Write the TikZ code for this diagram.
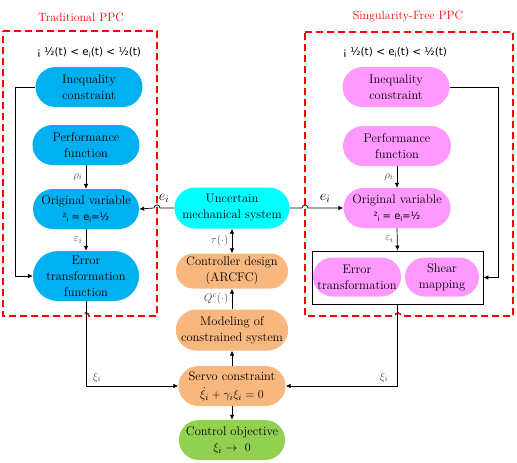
\documentclass[tikz,border=0pt]{standalone}
\usepackage{amsmath}
\usepackage{fontspec}
\newfontfamily\dejavu{DejaVu Sans}
\usetikzlibrary{shapes.misc,arrows.meta}
\definecolor{pblue}{HTML}{00B0F0}
\definecolor{pcyan}{HTML}{00FFFF}
\definecolor{porange}{HTML}{F7B77F}
\definecolor{pgreen}{HTML}{92D050}
\definecolor{ppink}{HTML}{FF99FF}
\newcommand{\nf}{\fontsize{12.5}{16}\selectfont}
\newcommand{\gsub}[1]{\raisebox{-0.35ex}{\fontsize{7}{7}\selectfont #1}}
\tikzset{
  pill/.style={rounded rectangle, draw=none, align=center, font=\nf, inner sep=0pt},
  arr/.style={-{Latex[length=5pt,width=4.5pt]}, line width=0.7pt},
  arrb/.style={{Latex[length=5pt,width=4.5pt]}-{Latex[length=5pt,width=4.5pt]}, line width=0.7pt},
  redbox/.style={draw=red, line width=1.6pt, dash pattern=on 7pt off 4pt},
  lab/.style={font=\fontsize{11}{12}\selectfont, text=black!70},
  ineq/.style={font=\dejavu\fontsize{10.5}{12}\selectfont},
  ttl/.style={font=\fontsize{12}{14}\selectfont, text=red}
}
\begin{document}
\begin{tikzpicture}[x=1pt,y=-1pt]
\useasboundingbox (0,0) rectangle (517,463);

% titles
\node[ttl] (t1) at (81,17) {Traditional PPC};
\node[ttl] (t2) at (408,17) {Singularity-Free PPC};

% dashed boxes
\draw[redbox] (3,31) -- (157,31) -- (157,316) -- (89,316)
  arc[start angle=0,end angle=180,radius=3pt] -- (3,316) -- cycle;
\draw[redbox] (305,32) -- (513,32) -- (513,316) -- (401,316)
  arc[start angle=0,end angle=180,radius=3pt] -- (305,316) -- cycle;

\node[ineq] (q1) at (89,53) {¡ ½(t) < e\gsub{i}(t) < ½(t)};
\node[ineq] (q2) at (395,53) {¡ ½(t) < e\gsub{i}(t) < ½(t)};

% left column
\node[pill, fill=pblue, minimum width=107, minimum height=40] (ineqL) at (89,87) {Inequality\\constraint};
\node[pill, fill=pblue, minimum width=107, minimum height=40] (perfL) at (86,145) {Performance\\function};
\node[pill, fill=pblue, minimum width=106, minimum height=40] (origL) at (86,209) {Original variable\\{\dejavu\fontsize{10}{12}\selectfont ²\gsub{i} = e\gsub{i}=½}};
\node[pill, fill=pblue, minimum width=106, minimum height=50] (errL) at (86,276) {Error\\transformation\\function};

% centre column
\node[pill, fill=pcyan, minimum width=115, minimum height=41] (unc) at (232,208) {Uncertain\\mechanical system};
\node[pill, fill=porange, minimum width=112, minimum height=35] (ctrl) at (232,271) {Controller design\\(ARCFC)};
\node[pill, fill=porange, minimum width=111, minimum height=41] (model) at (232,330) {Modeling of\\constrained system};
\node[pill, fill=porange, minimum width=107, minimum height=40] (servo) at (232,386) {Servo constraint\\[2pt]$\dot{\xi}_i+\gamma_i\xi_i=0$};
\node[pill, fill=pgreen, minimum width=106, minimum height=40] (goal) at (232,440) {Control objective\\$\xi_i\to\ 0$};

% right column
\node[pill, fill=ppink, minimum width=107, minimum height=40] (ineqR) at (396,87) {Inequality\\constraint};
\node[pill, fill=ppink, minimum width=108, minimum height=40] (perfR) at (397,146) {Performance\\function};
\node[pill, fill=ppink, minimum width=107, minimum height=40] (origR) at (397,208) {Original variable\\{\dejavu\fontsize{10}{12}\selectfont ²\gsub{i} = e\gsub{i}=½}};
\node[draw, line width=0.8pt, minimum width=171, minimum height=53, inner sep=0pt] (box) at (397.5,277.5) {};
\node[pill, fill=ppink, minimum width=88, minimum height=39] (errR) at (357,277) {Error\\transformation};
\node[pill, fill=ppink, minimum width=74, minimum height=39] (shearR) at (442,277) {Shear\\mapping};

% left connectors
\draw[arr] (ineqL.west) -- ++(-20,0) |- (errL.west);
\draw[arr] (perfL.south) -- node[lab, left] {$\rho_i$} (origL.north);
\draw[arr] (origL.south) -- node[lab, left] {$\varepsilon_i$} (errL.north);
\draw[arr] (errL.south) |- node[lab, pos=0.56, above] {$\xi_i$} (servo.west);

% e_i connectors with hops
\coordinate (hl) at (157,208);
\coordinate (hr) at (305,208);
\draw[arr] (unc.west) -- ([xshift=3pt]hl) arc[start angle=0,end angle=180,radius=3pt]
  -- (origL.east);
\draw[arr] (unc.east) -- ([xshift=-3pt]hr) arc[start angle=180,end angle=0,radius=3pt]
  -- (origR.west);
\node[font=\fontsize{14}{14}\selectfont] (el) at (164,198) {$e_i$};
\node[font=\fontsize{14}{14}\selectfont] (er) at (325,198) {$e_i$};

% centre connectors
\draw[arrb] (unc.south) -- node[lab, left] {$\tau(\cdot)$} (ctrl.north);
\draw[arr] (model.north) -- node[lab, left] {$Q^c(\cdot)$} (ctrl.south);
\draw[arr] (servo.north) -- (model.south);
\draw[arr] (servo.south) -- (goal.north);

% right connectors
\draw[arr] (ineqR.east) -- ++(49,0) |- (box.east);
\draw[arr] (perfR.south) -- node[lab, left] {$\rho_i$} (origR.north);
\draw[arr] (origR.south) -- node[lab, left] {$\varepsilon_i$} (box.north);
\draw[arr] (box.south) |- node[lab, pos=0.56, above] {$\xi_i$} (servo.east);
\end{tikzpicture}
\end{document}
